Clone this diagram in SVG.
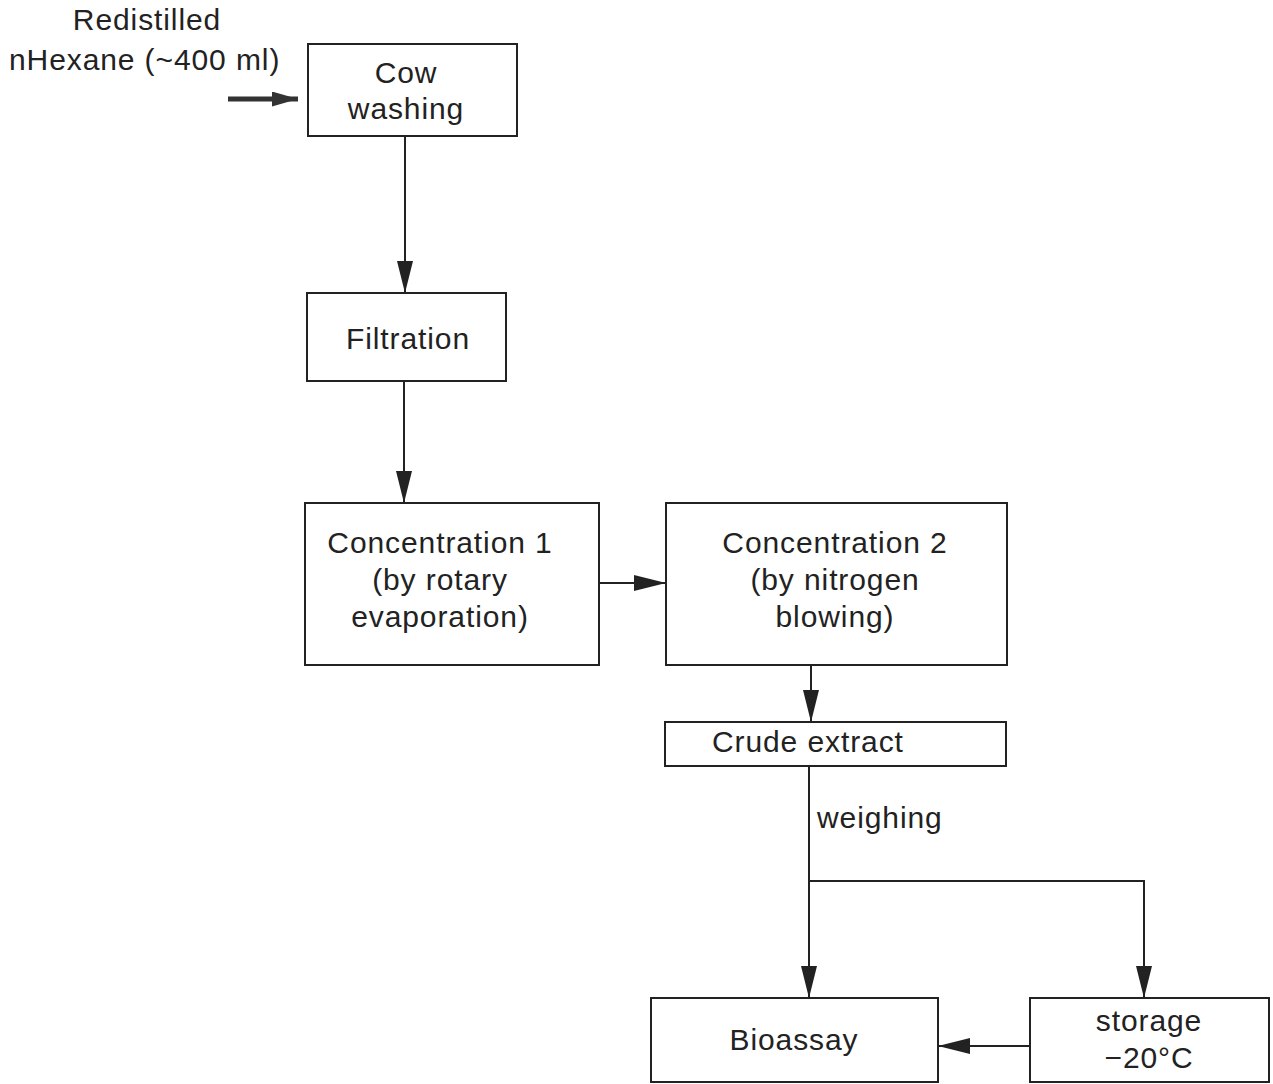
<svg xmlns="http://www.w3.org/2000/svg" width="1273" height="1084" viewBox="0 0 1273 1084">
<defs>
<style>
.box{fill:#fff;stroke:#222;stroke-width:2}
.t{font-family:"Liberation Sans",Arial,sans-serif;font-size:30px;fill:#222;letter-spacing:0.9px}
.m{text-anchor:middle}
.ln{fill:none;stroke:#222;stroke-width:2}
</style>
<marker id="ah" viewBox="0 0 32 16" refX="32" refY="8" markerWidth="32" markerHeight="16" markerUnits="userSpaceOnUse" orient="auto">
<path d="M0,0 L32,8 L0,16 Z" fill="#222"/>
</marker>
<marker id="ahs" viewBox="0 0 26 15" refX="26" refY="7.5" markerWidth="26" markerHeight="15" markerUnits="userSpaceOnUse" orient="auto">
<path d="M0,0 L26,7.5 L0,15 Z" fill="#333"/>
</marker>
</defs>
<rect width="1273" height="1084" fill="#fff"/>
<g id="input">
<text class="t m" x="147" y="30">Redistilled</text>
<text class="t" x="9" y="70">nHexane (~400 ml)</text>
</g>
<g id="cow">
<rect class="box" x="308" y="44" width="209" height="92"/>
<text class="t m" x="406" y="83">Cow</text>
<text class="t m" x="406" y="119">washing</text>
</g>
<g id="filtration">
<rect class="box" x="307" y="293" width="199" height="88"/>
<text class="t m" x="408" y="349">Filtration</text>
</g>
<g id="conc1">
<rect class="box" x="305" y="503" width="294" height="162"/>
<text class="t m" x="440" y="553">Concentration 1</text>
<text class="t m" x="440" y="590">(by rotary</text>
<text class="t m" x="440" y="627">evaporation)</text>
</g>
<g id="conc2">
<rect class="box" x="666" y="503" width="341" height="162"/>
<text class="t m" x="835" y="553">Concentration 2</text>
<text class="t m" x="835" y="590">(by nitrogen</text>
<text class="t m" x="835" y="627">blowing)</text>
</g>
<g id="crude">
<rect class="box" x="665" y="722" width="341" height="44"/>
<text class="t" x="712" y="752">Crude extract</text>
</g>
<g id="bioassay">
<rect class="box" x="651" y="998" width="287" height="84"/>
<text class="t m" x="794" y="1050">Bioassay</text>
</g>
<g id="storage">
<rect class="box" x="1030" y="998" width="239" height="84"/>
<text class="t m" x="1149" y="1031">storage</text>
<text class="t m" x="1149" y="1068">−20°C</text>
</g>
<g id="connectors">
<line x1="228" y1="99" x2="298" y2="99" stroke="#333" stroke-width="5" marker-end="url(#ahs)"/>
<line class="ln" x1="405" y1="136" x2="405" y2="293" marker-end="url(#ah)"/>
<line class="ln" x1="404" y1="381" x2="404" y2="503" marker-end="url(#ah)"/>
<line class="ln" x1="599" y1="583" x2="666" y2="583" marker-end="url(#ah)"/>
<line class="ln" x1="811" y1="665" x2="811" y2="722" marker-end="url(#ah)"/>
<line class="ln" x1="809" y1="766" x2="809" y2="998" marker-end="url(#ah)"/>
<polyline class="ln" points="809,881 1144,881 1144,998" marker-end="url(#ah)"/>
<line class="ln" x1="1030" y1="1046" x2="938" y2="1046" marker-end="url(#ah)"/>
<text class="t" x="817" y="828">weighing</text>
</g>
</svg>
